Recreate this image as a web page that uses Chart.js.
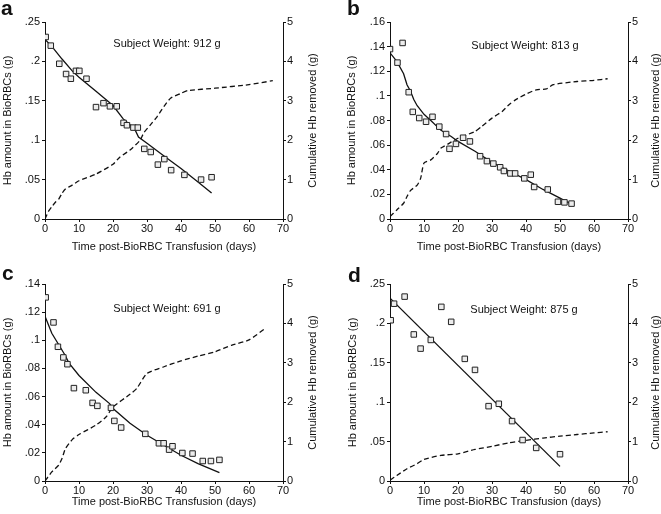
<!DOCTYPE html>
<html>
<head>
<meta charset="utf-8">
<script src="https://cdn.jsdelivr.net/npm/chart.js@4"></script>
<style>
  body { margin: 0; background: #fff; overflow: hidden; width: 661px; height: 514px; position: relative; }
  canvas { position: absolute; }
</style>
</head>
<body>
<canvas id="panelA" width="330" height="257" style="left:0;top:0"></canvas>
<canvas id="panelB" width="340" height="257" style="left:330px;top:0"></canvas>
<canvas id="panelC" width="330" height="257" style="left:0;top:257px"></canvas>
<canvas id="panelD" width="340" height="257" style="left:330px;top:257px"></canvas>
<script>
const xTicks = [0, 10, 20, 30, 40, 50, 60, 70];

// panel a
const aDays = [0.2, 1.7, 4.2, 6.2, 7.6, 9.1, 10.1, 12.2, 15.0, 17.2, 19.1, 21.1, 23.1, 24.1, 26.0, 27.3, 29.2, 31.1, 33.2, 35.1, 37.1, 41.0, 45.9, 49.0];
const aHb = [0.231, 0.220, 0.197, 0.184, 0.178, 0.188, 0.188, 0.178, 0.142, 0.147, 0.143, 0.143, 0.122, 0.119, 0.116, 0.116, 0.089, 0.085, 0.069, 0.076, 0.062, 0.056, 0.050, 0.053];
const aFitDays = [0, 2, 5, 8, 10, 15, 20, 23, 26.3, 27.5, 30, 35, 40, 45, 49];
const aFit = [0.228, 0.219, 0.203, 0.188, 0.180, 0.162, 0.144, 0.127, 0.115, 0.104, 0.096, 0.080, 0.064, 0.047, 0.033];
const aCumDays = [0, 1, 2, 3, 4, 5, 6, 8, 10, 15, 20, 22, 25, 28, 29, 31, 33, 35, 37, 40, 42, 50, 60, 67];
const aCum = [0, 0.19, 0.31, 0.42, 0.5, 0.65, 0.76, 0.86, 0.97, 1.14, 1.39, 1.57, 1.75, 2.0, 2.18, 2.39, 2.6, 2.86, 3.07, 3.19, 3.26, 3.32, 3.41, 3.51];

// panel b
const bDays = [0, 2.2, 3.7, 5.5, 6.7, 8.6, 10.6, 12.5, 14.5, 16.5, 17.5, 19.4, 21.5, 23.5, 26.5, 28.5, 30.4, 32.4, 33.5, 35.4, 36.8, 39.5, 41.4, 42.4, 46.4, 49.4, 51.3, 53.4];
const bHb = [0.138, 0.127, 0.143, 0.103, 0.087, 0.082, 0.079, 0.083, 0.075, 0.069, 0.057, 0.061, 0.066, 0.063, 0.051, 0.047, 0.045, 0.042, 0.039, 0.037, 0.037, 0.033, 0.036, 0.026, 0.024, 0.014, 0.0135, 0.0125];
const bFitDays = [0, 2, 4, 5, 6, 7, 8, 10, 12, 15, 18, 20, 25, 30, 35, 40, 45, 50, 53.4];
const bFit = [0.135, 0.128, 0.118, 0.109, 0.104, 0.097, 0.092, 0.085, 0.080, 0.072, 0.067, 0.063, 0.055, 0.046, 0.039, 0.032, 0.024, 0.017, 0.012];
const bCumDays = [0, 2, 4, 5, 6, 8, 9, 10, 12, 14, 15, 17, 20, 25, 27, 30, 33, 35, 37, 40, 43, 46, 48, 55, 60, 64];
const bCum = [0.06, 0.23, 0.4, 0.57, 0.72, 0.86, 1.03, 1.42, 1.5, 1.67, 1.8, 1.9, 2.05, 2.22, 2.35, 2.56, 2.73, 2.9, 3.03, 3.17, 3.28, 3.3, 3.41, 3.49, 3.52, 3.56];

// panel c
const cDays = [0.2, 2.5, 3.8, 5.4, 6.6, 8.5, 12.0, 14.0, 15.4, 19.4, 20.4, 22.4, 29.5, 33.5, 34.9, 36.5, 37.5, 40.4, 43.4, 46.4, 48.8, 51.3];
const cHb = [0.1305, 0.1127, 0.0954, 0.0878, 0.083, 0.066, 0.0645, 0.0555, 0.0534, 0.052, 0.0427, 0.038, 0.0335, 0.0268, 0.0268, 0.0223, 0.0247, 0.0199, 0.0195, 0.0142, 0.0142, 0.015];
const cFitDays = [0, 2, 4, 6, 7, 10, 15, 19, 20, 25, 30, 35, 40, 45, 51.3];
const cFit = [0.117, 0.105, 0.097, 0.089, 0.084, 0.075, 0.063, 0.055, 0.0515, 0.041, 0.0325, 0.0254, 0.0183, 0.0123, 0.0059];
const cCumDays = [0, 2, 4, 5, 6, 8, 10, 15, 18, 20, 25, 27, 30, 35, 40, 45, 50, 55, 60, 65];
const cCum = [0, 0.23, 0.4, 0.57, 0.82, 1.05, 1.18, 1.42, 1.63, 1.88, 2.2, 2.35, 2.73, 2.9, 3.05, 3.17, 3.28, 3.45, 3.58, 3.89];

// panel d
const dDays = [0.2, 1.2, 4.3, 7.0, 9.0, 12.0, 15.1, 18.0, 22.0, 25.0, 29.0, 32.0, 35.9, 39.0, 43.0, 50.0];
const dHb = [0.204, 0.225, 0.234, 0.186, 0.168, 0.179, 0.221, 0.202, 0.155, 0.141, 0.095, 0.098, 0.076, 0.052, 0.042, 0.034];
const dFitDays = [0, 50];
const dFit = [0.232, 0.0186];
const dCumDays = [0, 2, 5, 8, 10, 15, 20, 25, 30, 35, 40, 45, 50, 55, 60, 64];
const dCum = [0.02, 0.14, 0.31, 0.44, 0.55, 0.65, 0.69, 0.8, 0.88, 0.97, 1.03, 1.09, 1.14, 1.18, 1.22, 1.25];

const FONT = 'Liberation Sans, Arial, sans-serif';
const INK = '#111';

function pts(xs, ys) {
    return xs.map((x, i) => ({ x: x, y: ys[i] }));
}

function fmtHb(v) {
    if (v === 0) return '0';
    return String(parseFloat(v.toFixed(3))).replace(/^0/, '');
}

// panel letter, subject weight and right axis title (reads bottom to top)
const labelsPlugin = {
    id: 'panelLabels',
    afterDraw(chart) {
        const o = chart.options.plugins.panelLabels;
        const area = chart.chartArea;
        const ctx = chart.ctx;
        ctx.save();
        ctx.fillStyle = INK;
        ctx.font = 'bold 21px ' + FONT;
        ctx.textAlign = 'left';
        ctx.textBaseline = 'alphabetic';
        ctx.fillText(o.letter, o.letterX, o.letterY);
        ctx.font = '11px ' + FONT;
        ctx.textAlign = 'center';
        ctx.textBaseline = 'middle';
        ctx.fillText(o.note, o.noteX, o.noteY);
        ctx.translate(o.rightTitleX, (area.top + area.bottom) / 2);
        ctx.rotate(-Math.PI / 2);
        ctx.fillText('Cumulative Hb removed (g)', 0, 0);
        ctx.restore();
    }
};

function makePanel(id, p) {
    const canvas = document.getElementById(id);
    const H = canvas.height, W = canvas.width;
    new Chart(canvas.getContext('2d'), {
        type: 'scatter',
        data: {
            datasets: [{
                data: pts(p.days, p.hb),
                yAxisID: 'y',
                pointStyle: 'rect',
                pointRadius: 3.9,
                backgroundColor: '#ececec',
                borderColor: '#222',
                borderWidth: 1
            }, {
                type: 'line',
                data: pts(p.fitDays, p.fit),
                yAxisID: 'y',
                borderColor: INK,
                borderWidth: 1.3,
                pointRadius: 0,
                fill: false,
                tension: 0
            }, {
                type: 'line',
                data: pts(p.cumDays, p.cum),
                yAxisID: 'y2',
                borderColor: INK,
                borderWidth: 1.3,
                borderDash: [5, 3],
                pointRadius: 0,
                fill: false,
                tension: 0.2
            }]
        },
        options: {
            responsive: false,
            animation: false,
            layout: { padding: { top: p.top, left: 0, right: 0, bottom: 0 } },
            plugins: {
                legend: { display: false },
                tooltip: { enabled: false },
                panelLabels: p.labels
            },
            scales: {
                x: {
                    type: 'linear',
                    min: 0, max: 70,
                    afterBuildTicks: s => { s.ticks = xTicks.map(v => ({ value: v })); },
                    ticks: { color: INK, font: { family: FONT, size: 11 }, padding: 0, autoSkip: false, maxRotation: 0 },
                    grid: { drawOnChartArea: false, tickLength: 3, color: INK },
                    border: { color: INK, width: 1 },
                    title: { display: true, text: 'Time post-BioRBC Transfusion (days)', color: INK,
                             font: { family: FONT, size: 11 }, padding: { top: 0, bottom: p.xTitlePad } },
                    afterFit: s => { s.height = H - p.bottom; }
                },
                y: {
                    position: 'left',
                    min: 0, max: p.yMax,
                    ticks: { stepSize: p.yStep, color: INK, font: { family: FONT, size: 11 }, padding: 2, callback: fmtHb },
                    grid: { drawOnChartArea: false, tickLength: 3, color: INK },
                    border: { color: INK, width: 1 },
                    title: { display: true, text: 'Hb amount in BioRBCs (g)', color: INK,
                             font: { family: FONT, size: 11 }, padding: { top: p.yTitlePad, bottom: 0 } },
                    afterFit: s => { s.width = p.left; }
                },
                y2: {
                    position: 'right',
                    min: 0, max: 5,
                    ticks: { stepSize: 1, color: INK, font: { family: FONT, size: 11 }, padding: 1 },
                    grid: { drawOnChartArea: false, tickLength: 3, color: INK },
                    border: { color: INK, width: 1 },
                    afterFit: s => { s.width = W - p.right; }
                }
            }
        },
        plugins: [labelsPlugin]
    });
}

makePanel('panelA', {
    days: aDays, hb: aHb, fitDays: aFitDays, fit: aFit, cumDays: aCumDays, cum: aCum,
    yMax: 0.25, yStep: 0.05,
    left: 45, right: 283, top: 22, bottom: 219,
    xTitlePad: 3, yTitlePad: 1,
    labels: { letter: 'a', letterX: 1, letterY: 15, note: 'Subject Weight: 912 g', noteX: 167, noteY: 44, rightTitleX: 313 }
});
makePanel('panelB', {
    days: bDays, hb: bHb, fitDays: bFitDays, fit: bFit, cumDays: bCumDays, cum: bCum,
    yMax: 0.16, yStep: 0.02,
    left: 60, right: 298, top: 22, bottom: 219,
    xTitlePad: 3, yTitlePad: 15,
    labels: { letter: 'b', letterX: 17, letterY: 15, note: 'Subject Weight: 813 g', noteX: 195, noteY: 46, rightTitleX: 326 }
});
makePanel('panelC', {
    days: cDays, hb: cHb, fitDays: cFitDays, fit: cFit, cumDays: cCumDays, cum: cCum,
    yMax: 0.14, yStep: 0.02,
    left: 45, right: 283, top: 27, bottom: 224,
    xTitlePad: 5, yTitlePad: 1,
    labels: { letter: 'c', letterX: 2, letterY: 23, note: 'Subject Weight: 691 g', noteX: 167, noteY: 52, rightTitleX: 313 }
});
makePanel('panelD', {
    days: dDays, hb: dHb, fitDays: dFitDays, fit: dFit, cumDays: dCumDays, cum: dCum,
    yMax: 0.25, yStep: 0.05,
    left: 60, right: 298, top: 27, bottom: 224,
    xTitlePad: 5, yTitlePad: 16,
    labels: { letter: 'd', letterX: 18, letterY: 25, note: 'Subject Weight: 875 g', noteX: 194, noteY: 53, rightTitleX: 326 }
});
</script>
</body>
</html>
